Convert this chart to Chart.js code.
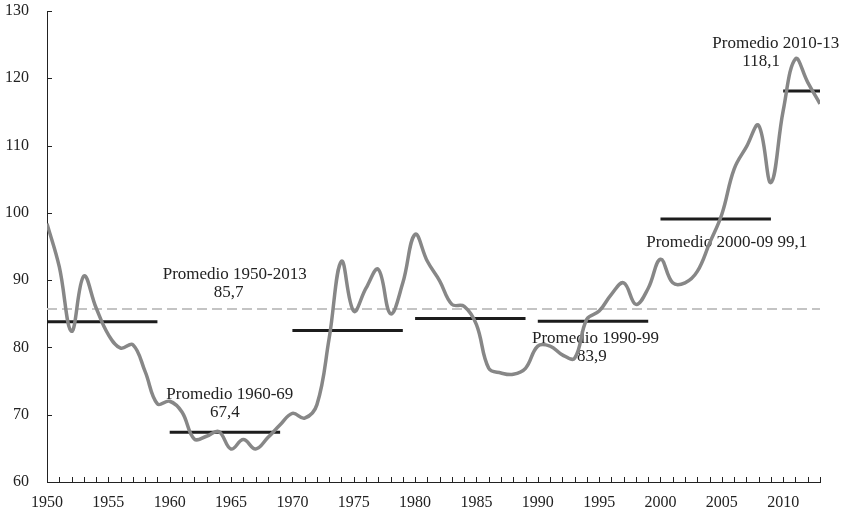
<!DOCTYPE html>
<html>
<head>
<meta charset="utf-8">
<script src="https://cdn.jsdelivr.net/npm/chart.js@4"></script>
<style>
  html, body { margin: 0; padding: 0; background: #fff; }
  #wrap { width: 845px; height: 514px; }
</style>
</head>
<body>
<div id="wrap"><canvas id="chart"></canvas></div>
<script>
// DATA
const years = [];
for (let y = 1950; y <= 2013; y++) years.push(y);

const values = [
  98.4, 92.0, 82.4, 90.6, 85.9, 81.9, 79.9, 80.4, 76.4, 71.6,
  72.0, 70.4, 66.4, 66.8, 67.5, 64.9, 66.3, 64.9, 66.6, 68.5,
  70.2, 69.5, 71.5, 81.4, 92.8, 85.4, 88.8, 91.6, 85.0, 89.6,
  96.8, 92.8, 89.9, 86.4, 86.1, 83.4, 76.9, 76.2, 76.0, 76.9,
  80.2, 80.2, 78.9, 78.4, 84.2, 85.4, 87.9, 89.6, 86.4, 88.8,
  93.1, 89.6, 89.6, 91.3, 95.5, 99.8, 106.5, 109.8, 113.0, 104.5,
  115.2, 122.9, 119.4, 116.2
];

const periodStart = [1950, 1960, 1970, 1980, 1990, 2000, 2010];
const periodEnd   = [1959, 1969, 1979, 1989, 1999, 2009, 2013];
const periodAvg   = [83.8, 67.4, 82.5, 84.3, 83.9, 99.1, 118.1];

const totalAvg = 85.7;

const notes = [
  ["Promedio 1950-2013", "85,7"],
  ["Promedio 1960-69", "67,4"],
  ["Promedio 1990-99", "83,9"],
  ["Promedio 2000-09 99,1", ""],
  ["Promedio 2010-13", "118,1"],
];
// where each note sits: year of line 1, value of its baseline, year of line 2
const noteAnchor = [
  [1965.3, 90.1, 1964.8],
  [1964.9, 72.4, 1964.5],
  [1994.7, 80.6, 1994.4],
  [2005.4, 94.9, 0],
  [2009.4, 124.5, 2008.2],
];

const FONT = "'Liberation Serif', 'Times New Roman', serif";

// DATASETS
const datasets = [];
datasets.push({
  data: years.map((y, i) => ({ x: y, y: values[i] })),
  borderColor: "#878787",
  borderWidth: 3.5,
  tension: 0.4,
  pointRadius: 0,
  order: 0,
});
periodAvg.forEach((v, i) => {
  datasets.push({
    data: [{ x: periodStart[i], y: v }, { x: periodEnd[i], y: v }],
    borderColor: "#1c1c1c",
    borderWidth: 3,
    pointRadius: 0,
    order: 1,
  });
});
datasets.push({
  data: [{ x: 1950, y: totalAvg }, { x: 2013, y: totalAvg }],
  borderColor: "#c4c4c4",
  borderWidth: 2,
  borderDash: [10, 5],
  pointRadius: 0,
  order: 2,
});

// NOTES + INSIDE TICKS
const extras = {
  id: "extras",
  beforeDatasetsDraw(chart) {
    const { ctx, scales: { x, y } } = chart;
    ctx.save();
    ctx.font = "17px " + FONT;
    ctx.fillStyle = "#222";
    ctx.textAlign = "center";
    ctx.textBaseline = "alphabetic";
    notes.forEach((n, i) => {
      const a = noteAnchor[i];
      const py = y.getPixelForValue(a[1]);
      ctx.fillText(n[0], x.getPixelForValue(a[0]), py);
      if (n[1]) ctx.fillText(n[1], x.getPixelForValue(a[2]), py + 18);
    });
    ctx.restore();
  },
  afterDraw(chart) {
    const { ctx, scales: { x, y } } = chart;
    ctx.save();
    ctx.strokeStyle = "#222";
    ctx.lineWidth = 1;
    ctx.beginPath();
    x.ticks.forEach(t => {
      const px = Math.round(x.getPixelForValue(t.value)) + 0.5;
      ctx.moveTo(px, y.bottom);
      ctx.lineTo(px, y.bottom - 5);
    });
    y.ticks.forEach(t => {
      const py = Math.round(y.getPixelForValue(t.value)) + 0.5;
      ctx.moveTo(x.left, py);
      ctx.lineTo(x.left + 5, py);
    });
    ctx.stroke();
    ctx.restore();
  }
};

new Chart(document.getElementById("chart"), {
  type: "line",
  data: { datasets },
  plugins: [extras],
  options: {
    responsive: true,
    maintainAspectRatio: false,
    animation: false,
    layout: { padding: { top: 0, right: 25, left: 0, bottom: 0 } },
    plugins: { legend: { display: false }, tooltip: { enabled: false } },
    scales: {
      x: {
        type: "linear",
        min: 1950,
        max: 2013,
        grid: { display: false, drawTicks: false },
        border: { display: true, color: "#222", width: 1 },
        afterFit: s => { s.height = 32; },
        ticks: {
          stepSize: 1,
          autoSkip: false,
          maxRotation: 0,
          padding: 11,
          color: "#222",
          font: { family: FONT, size: 16 },
          callback: v => (v % 5 === 0 ? String(v) : ""),
        },
      },
      y: {
        min: 60,
        max: 130,
        grid: { display: false, drawTicks: false },
        border: { display: true, color: "#222", width: 1 },
        afterFit: s => { s.width = 47; s.paddingTop = 11; s.paddingBottom = 0; },
        ticks: {
          stepSize: 10,
          padding: 18,
          color: "#222",
          font: { family: FONT, size: 16 },
        },
      },
    },
  },
});
</script>
</body>
</html>
